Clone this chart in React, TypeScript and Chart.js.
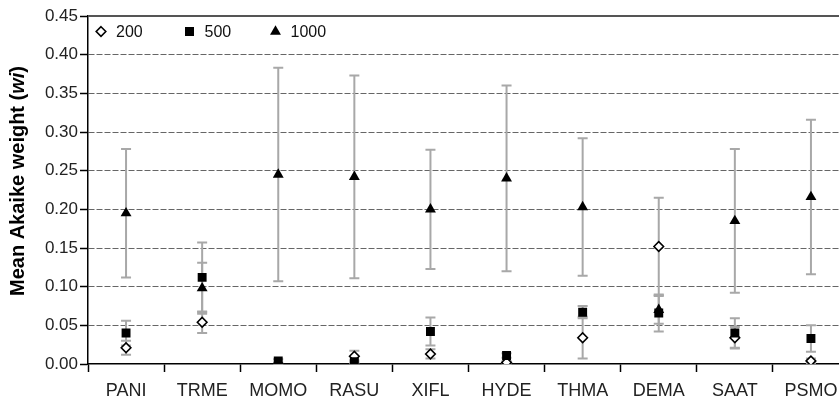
import React, { useEffect, useRef } from "react";
import { Chart, registerables } from "chart.js";

Chart.register(...registerables);

const categories = ["PANI", "TRME", "MOMO", "RASU", "XIFL", "HYDE", "THMA", "DEMA", "SAAT", "PSMO"];
const seriesNames = ["200", "500", "1000"];

const mean200 = [0.021, 0.054, 0.0, 0.01, 0.013, 0.002, 0.034, 0.152, 0.034, 0.004];
const err200 = [0.009, 0.014, 0.001, 0.007, 0.006, 0.002, 0.027, 0.063, 0.014, 0.003];

const mean500 = [0.04, 0.112, 0.004, 0.003, 0.042, 0.011, 0.067, 0.066, 0.04, 0.033];
const err500 = [0.016, 0.045, 0.002, 0.002, 0.018, 0.003, 0.008, 0.024, 0.019, 0.017];

const mean1000 = [0.195, 0.098, 0.245, 0.242, 0.2, 0.24, 0.203, 0.07, 0.185, 0.216];
const err1000 = [0.083, 0.033, 0.138, 0.131, 0.077, 0.12, 0.089, 0.018, 0.093, 0.1];

const yTicks = [0, 0.05, 0.1, 0.15, 0.2, 0.25, 0.3, 0.35, 0.4, 0.45];

const FONT = '"Liberation Sans", Arial, sans-serif';

function drawMarker(ctx: CanvasRenderingContext2D, style: string, x: number, y: number) {
  ctx.save();
  ctx.beginPath();
  if (style === "rectRot") {
    const r = 4.8;
    ctx.moveTo(x, y - r);
    ctx.lineTo(x + r, y);
    ctx.lineTo(x, y + r);
    ctx.lineTo(x - r, y);
    ctx.closePath();
    ctx.fillStyle = "#fff";
    ctx.fill();
    ctx.lineWidth = 1.6;
    ctx.strokeStyle = "#000";
    ctx.stroke();
  } else if (style === "rect") {
    const s = 4.5;
    ctx.rect(x - s, y - s, 2 * s, 2 * s);
    ctx.fillStyle = "#000";
    ctx.fill();
  } else {
    const r = 6.3;
    for (let i = 0; i < 3; i++) {
      const a = (i * 2 * Math.PI) / 3;
      const px = x + Math.sin(a) * r;
      const py = y - Math.cos(a) * r;
      if (i === 0) ctx.moveTo(px, py);
      else ctx.lineTo(px, py);
    }
    ctx.closePath();
    ctx.fillStyle = "#000";
    ctx.fill();
  }
  ctx.restore();
}

const errorBarPlugin = {
  id: "errorBars",
  beforeDatasetsDraw(chart: any) {
    const ctx = chart.ctx as CanvasRenderingContext2D;
    const xs = chart.scales.x;
    const ys = chart.scales.y;
    const errs = [err200, err500, err1000];
    const means = [mean200, mean500, mean1000];
    ctx.save();
    ctx.strokeStyle = "#a8a8a8";
    ctx.lineWidth = 2;
    for (let d = 2; d >= 0; d--) {
      for (let i = 0; i < categories.length; i++) {
        const x = xs.getPixelForValue(i);
        const top = ys.getPixelForValue(means[d][i] + errs[d][i]);
        const bot = ys.getPixelForValue(Math.max(0, means[d][i] - errs[d][i]));
        ctx.beginPath();
        ctx.moveTo(x, top);
        ctx.lineTo(x, bot);
        ctx.moveTo(x - 5, top);
        ctx.lineTo(x + 5, top);
        ctx.moveTo(x - 5, bot);
        ctx.lineTo(x + 5, bot);
        ctx.stroke();
      }
    }
    ctx.restore();
  },
};

const framePlugin = {
  id: "frameAndLegend",
  afterDraw(chart: any) {
    const ctx = chart.ctx as CanvasRenderingContext2D;
    const area = chart.chartArea;
    ctx.save();
    // top frame line
    ctx.strokeStyle = "#555";
    ctx.lineWidth = 2;
    ctx.beginPath();
    ctx.moveTo(area.left, area.top);
    ctx.lineTo(chart.width, area.top);
    ctx.stroke();

    // legend
    const styles = ["rectRot", "rect", "triangle"];
    const offs = [13, 101.5, 187.5];
    const ly = area.top + 15.5;
    ctx.font = `16px ${FONT}`;
    ctx.fillStyle = "#111";
    ctx.textBaseline = "middle";
    ctx.textAlign = "left";
    for (let i = 0; i < 3; i++) {
      const lx = area.left + offs[i];
      drawMarker(ctx, styles[i], lx, ly);
      ctx.fillStyle = "#111";
      ctx.fillText(seriesNames[i], lx + 15, ly + 1);
    }

    // y title with italic part
    const parts = [
      { t: "Mean Akaike weight (", f: `bold 20px ${FONT}` },
      { t: "wi", f: `italic bold 20px ${FONT}` },
      { t: ")", f: `bold 20px ${FONT}` },
    ];
    let total = 0;
    const widths: number[] = [];
    for (const p of parts) {
      ctx.font = p.f;
      const w = ctx.measureText(p.t).width;
      widths.push(w);
      total += w;
    }
    ctx.translate(18, 181);
    ctx.rotate(-Math.PI / 2);
    ctx.textBaseline = "middle";
    ctx.fillStyle = "#000";
    let cx = -total / 2;
    parts.forEach((p, i) => {
      ctx.font = p.f;
      ctx.fillText(p.t, cx, 0);
      cx += widths[i];
    });
    ctx.restore();
  },
};

export default function App() {
  const canvasRef = useRef<HTMLCanvasElement | null>(null);

  useEffect(() => {
    if (!canvasRef.current) return;
    const chart = new Chart(canvasRef.current, {
      type: "line",
      data: {
        labels: categories,
        datasets: [
          {
            label: seriesNames[0],
            data: mean200,
            showLine: false,
            pointStyle: "rectRot",
            pointRadius: 4.8,
            pointBackgroundColor: "#fff",
            pointBorderColor: "#000",
            pointBorderWidth: 1.6,
            borderColor: "#000",
            order: 3,
          },
          {
            label: seriesNames[1],
            data: mean500,
            showLine: false,
            pointStyle: "rect",
            pointRadius: 6.3,
            pointBackgroundColor: "#000",
            pointBorderColor: "#000",
            pointBorderWidth: 0,
            borderColor: "#000",
            order: 2,
          },
          {
            label: seriesNames[2],
            data: mean1000,
            showLine: false,
            pointStyle: "triangle",
            pointRadius: 6.3,
            pointBackgroundColor: "#000",
            pointBorderColor: "#000",
            pointBorderWidth: 0,
            borderColor: "#000",
            order: 1,
          },
        ],
      },
      options: {
        animation: false,
        responsive: true,
        maintainAspectRatio: false,
        layout: { padding: { top: 16, right: 7, left: 0, bottom: 0 } },
        plugins: {
          legend: { display: false },
          tooltip: { enabled: false },
        },
        scales: {
          x: {
            type: "category",
            offset: true,
            afterFit: (s: any) => {
              s.height = 35;
            },
            grid: {
              offset: true,
              drawOnChartArea: false,
              drawTicks: true,
              tickLength: 8,
              tickColor: "#000",
              tickWidth: 1.5,
            },
            border: { display: true, color: "#000", width: 1.5 },
            ticks: {
              autoSkip: false,
              maxRotation: 0,
              color: "#222",
              padding: 8,
              font: { family: FONT, size: 18 },
            },
          },
          y: {
            type: "linear",
            min: 0,
            max: 0.45,
            afterFit: (s: any) => {
              s.width = 88;
            },
            afterBuildTicks: (s: any) => {
              s.ticks = yTicks.map((v) => ({ value: v }));
            },
            grid: {
              color: (c: any) => {
                const v = c.tick ? c.tick.value : 0;
                if (v < 0.001 || v > 0.449) return "rgba(0,0,0,0)";
                return "#666";
              },
              lineWidth: 1,
              drawTicks: true,
              tickLength: 8,
              tickColor: "#000",
              tickWidth: 1.5,
            },
            border: { display: true, color: "#000", width: 1.5, dash: [6, 2] },
            ticks: {
              color: "#222",
              padding: 2,
              font: { family: FONT, size: 17 },
              callback: (v: any) => Number(v).toFixed(2),
            },
          },
        },
      },
      plugins: [errorBarPlugin, framePlugin],
    });
    return () => chart.destroy();
  }, []);

  return (
    <div style={{ position: "fixed", left: 0, top: 0, width: 839, height: 399, overflow: "hidden", background: "#fff" }}>
      <div style={{ position: "relative", width: 856, height: 399 }}>
        <canvas ref={canvasRef} />
      </div>
    </div>
  );
}
